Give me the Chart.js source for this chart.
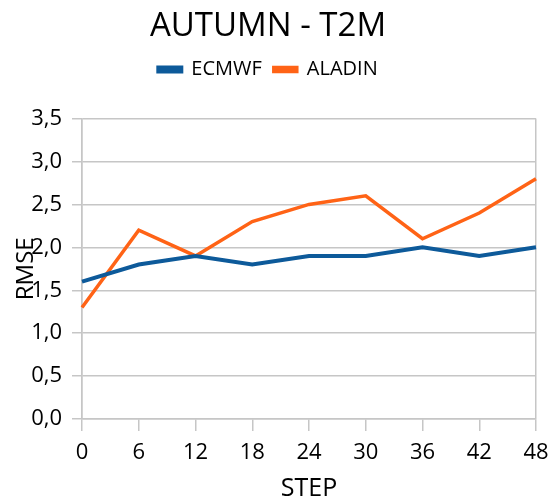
<!DOCTYPE html>
<html>
<head>
<meta charset="utf-8">
<script src="https://cdn.jsdelivr.net/npm/chart.js@4/dist/chart.umd.min.js"></script>
<style>
  html, body { margin: 0; padding: 0; background: #fff; }
</style>
</head>
<body>
<canvas id="c" width="559" height="502" style="width:559px;height:502px;display:block"></canvas>
<script>
const steps = ['0', '6', '12', '18', '24', '30', '36', '42', '48'];
const ecmwf = [1.6, 1.8, 1.9, 1.8, 1.9, 1.9, 2.0, 1.9, 2.0];
const aladin = [1.3, 2.2, 1.9, 2.3, 2.5, 2.6, 2.1, 2.4, 2.8];
const titleText = 'AUTUMN - T2M';
const xTitle = 'STEP';
const yTitle = 'RMSE';

const FONT = '"Open Sans", "DejaVu Sans", sans-serif';
const GRID = '#c6c6c6';
const BLUE = '#0d5a9a';
const ORANGE = '#ff6316';

const yTitlePlugin = {
  id: 'yTitleOverlay',
  afterDraw(chart) {
    const ctx = chart.ctx;
    const a = chart.chartArea;
    ctx.save();
    ctx.translate(26, (a.top + a.bottom) / 2);
    ctx.rotate(-Math.PI / 2);
    ctx.font = '24px ' + FONT;
    ctx.fillStyle = '#000';
    ctx.textAlign = 'center';
    ctx.textBaseline = 'middle';
    ctx.fillText(yTitle, 0, 0);
    ctx.restore();
  }
};

new Chart(document.getElementById('c'), {
  type: 'line',
  data: {
    labels: steps,
    datasets: [
      { label: 'ECMWF', data: ecmwf, borderColor: BLUE, backgroundColor: BLUE,
        borderWidth: 4, pointRadius: 0, tension: 0, borderJoinStyle: 'miter' },
      { label: 'ALADIN', data: aladin, borderColor: ORANGE, backgroundColor: ORANGE,
        borderWidth: 3.5, pointRadius: 0, tension: 0, borderJoinStyle: 'miter' }
    ]
  },
  options: {
    responsive: false,
    animation: false,
    devicePixelRatio: 1,
    layout: { padding: { left: 0, right: 23, top: 0, bottom: 0 } },
    plugins: {
      title: {
        display: true, text: titleText, color: '#000',
        font: { family: FONT, size: 33, weight: 'normal' },
        padding: { top: 7, bottom: 1 }, weight: 2000
      },
      subtitle: {
        display: true, text: '', weight: 500,
        font: { size: 1, lineHeight: 1 },
        padding: { top: 28, bottom: 0 }
      },
      legend: {
        display: true, weight: 1000,
        labels: {
          color: '#000', boxWidth: 23, boxHeight: 4, padding: 12,
          font: { family: FONT, size: 20 }
        }
      },
      tooltip: { enabled: false }
    },
    scales: {
      x: {
        offset: false,
        grid: {
          color: (c) => (c.index === 0 || c.index === steps.length - 1) ? GRID : 'rgba(0,0,0,0)',
          tickColor: GRID, tickLength: 12, lineWidth: 1.5, drawOnChartArea: true
        },
        border: { display: true, color: GRID, width: 1.5 },
        ticks: { color: '#000', font: { family: FONT, size: 22 }, padding: 9, maxRotation: 0, autoSkip: false },
        title: { display: true, text: xTitle, color: '#000', font: { family: FONT, size: 25, lineHeight: 1 }, padding: { top: 4, bottom: 1 } },
        afterFit(s) { s.height = 83; }
      },
      y: {
        min: 0, max: 3.5,
        grid: { color: GRID, tickColor: GRID, tickLength: 10, lineWidth: 1.5 },
        border: { display: true, color: GRID, width: 1.5 },
        ticks: {
          stepSize: 0.5, color: '#000', padding: 10,
          font: { family: FONT, size: 22 },
          callback: (v) => Number(v).toFixed(1).replace('.', ',')
        },
        afterFit(s) { s.width = 82; }
      }
    }
  },
  plugins: [yTitlePlugin]
});
</script>
</body>
</html>
